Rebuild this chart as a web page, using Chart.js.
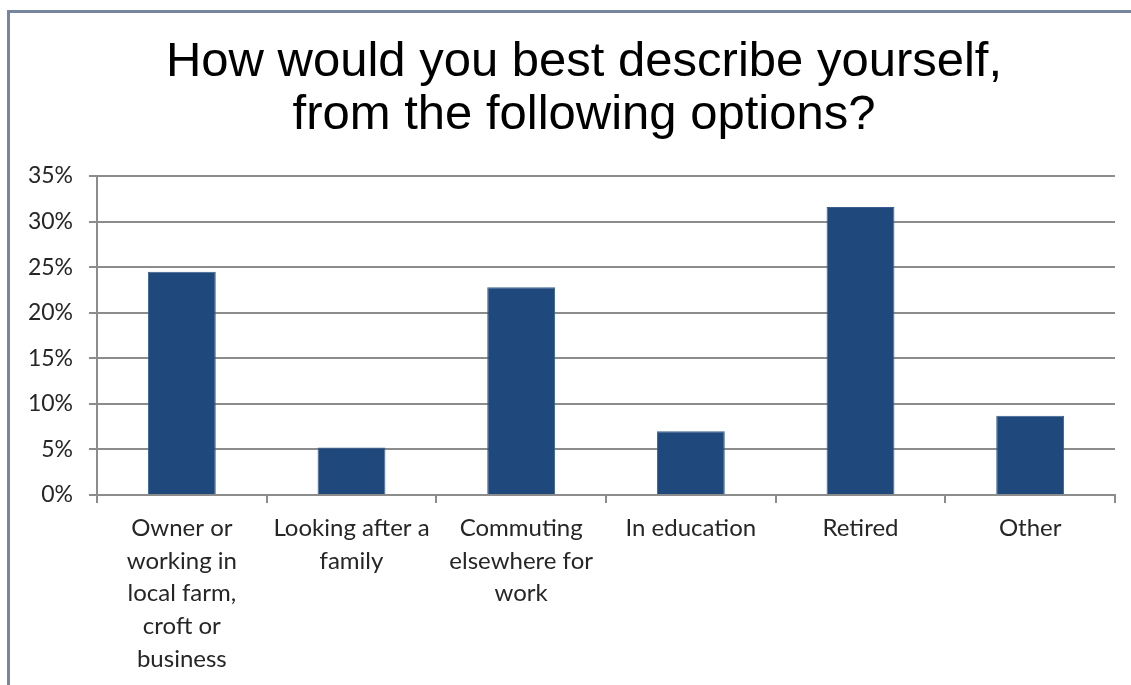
<!DOCTYPE html>
<html>
<head>
<meta charset="utf-8">
<script src="https://cdn.jsdelivr.net/npm/chart.js@4/dist/chart.umd.min.js"></script>
<style>
  html, body { margin: 0; padding: 0; background: #fff; overflow: hidden; }
  #frame {
    position: absolute; left: 7px; top: 10px; width: 1160px; height: 690px;
    border-left: 3px solid #75869e; border-top: 3px solid #75869e;
    background: #fff;
  }
  #wrap { position: absolute; left: 0; top: 0; width: 1150px; height: 672px; }
</style>
</head>
<body>
<div id="frame"><div id="wrap"><canvas id="myChart"></canvas></div></div>
<script>
// categories (wrapped onto lines as drawn under the axis)
var categories = [
    ["Owner or", "working in", "local farm,", "croft or", "business"],
    ["Looking after a", "family"],
    ["Commuting", "elsewhere for", "work"],
    ["In education"],
    ["Retired"],
    ["Other"]
];
// share of respondents, %
var shares = [24.5, 5.2, 22.8, 7.0, 31.6, 8.7];
var yTicks = [0, 5, 10, 15, 20, 25, 30, 35];

var titleLines = ["How would you best describe yourself,", "from the following options?"];

var gridGrey = "#8c8c8c";
var textDark = "#262626";
var tickFont = "Lato, 'Open Sans', sans-serif";

// title drawn centred on the whole frame, not just the plot width
var headingPlugin = {
    id: "heading",
    afterDraw: function (chart) {
        var ctx = chart.ctx;
        ctx.save();
        ctx.fillStyle = "#000";
        ctx.font = "49px 'Liberation Sans', Arial, sans-serif";
        ctx.textAlign = "center";
        ctx.textBaseline = "middle";
        titleLines.forEach(function (line, i) {
            ctx.fillText(line, 574, 49 + i * 53);
        });
        ctx.restore();
    }
};

var canvas = document.getElementById("myChart");

var myChart = new Chart(canvas, {
    type: "bar",
    data: {
        labels: categories,
        datasets: [{
            data: shares,
            backgroundColor: "#1F497D",
            borderColor: "#3a5f8f",
            borderWidth: 1,
            barPercentage: 0.4,
            categoryPercentage: 1
        }]
    },
    plugins: [headingPlugin],
    options: {
        responsive: true,
        maintainAspectRatio: false,
        animation: false,
        layout: { padding: { top: 163, right: 45, bottom: 0, left: 0 } },
        plugins: {
            legend: { display: false },
            tooltip: { enabled: false },
            title: { display: false }
        },
        scales: {
            x: {
                offset: true,
                grid: {
                    offset: true,
                    drawOnChartArea: false,
                    drawTicks: true,
                    tickLength: 8,
                    color: gridGrey,
                    lineWidth: 2
                },
                border: { display: true, color: gridGrey, width: 2 },
                ticks: {
                    color: textDark,
                    maxRotation: 0,
                    autoSkip: false,
                    padding: 9,
                    font: { family: tickFont, size: 24, lineHeight: 1.36 }
                },
                afterFit: function (scale) { scale.height = 190; }
            },
            y: {
                min: 0,
                max: 35,
                afterBuildTicks: function (scale) {
                    scale.ticks = yTicks.map(function (v) { return { value: v }; });
                },
                grid: {
                    color: gridGrey,
                    lineWidth: 2,
                    tickLength: 8,
                    drawTicks: true
                },
                border: { display: true, color: gridGrey, width: 2 },
                ticks: {
                    color: textDark,
                    padding: 16,
                    font: { family: tickFont, size: 23 },
                    callback: function (v) { return v + "%"; }
                },
                afterFit: function (scale) { scale.width = 87; }
            }
        }
    }
});
</script>
</body>
</html>
